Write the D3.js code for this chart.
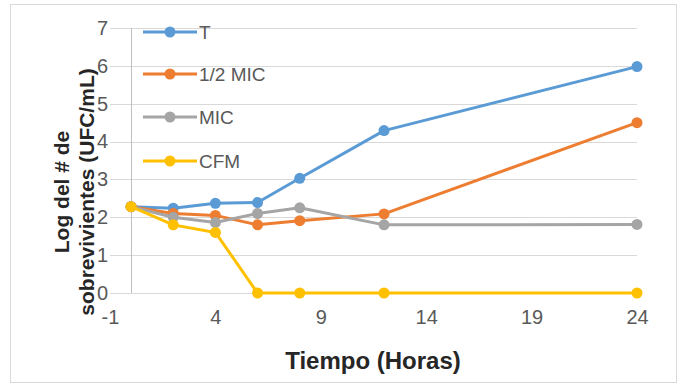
<!DOCTYPE html>
<html>
<head>
<meta charset="utf-8">
<script src="https://cdn.jsdelivr.net/npm/d3@7"></script>
<style>
  html, body { margin: 0; padding: 0; background: #fff; }
  svg { display: block; }
</style>
</head>
<body>
<svg id="chart" width="689" height="386"></svg>
<script>
// ---- data ----
const hours = [0, 2, 4, 6, 8, 12, 24];
const seriesNames = ["T", "1/2 MIC", "MIC", "CFM"];
const valuesT = [2.28, 2.24, 2.37, 2.39, 3.03, 4.29, 5.98];
const valuesHalfMIC = [2.28, 2.10, 2.05, 1.80, 1.91, 2.09, 4.50];
const valuesMIC = [2.28, 2.00, 1.86, 2.10, 2.25, 1.80, 1.81];
const valuesCFM = [2.28, 1.80, 1.60, 0, 0, 0, 0];
const xTicks = [-1, 4, 9, 14, 19, 24];
const yTicks = [0, 1, 2, 3, 4, 5, 6, 7];
const colors = ["#5B9BD5", "#ED7D31", "#A5A5A5", "#FFC000"];
const yTitleLines = ["Log del # de", "sobrevivientes (UFC/mL)"];
const xTitle = "Tiempo (Horas)";

const allValues = [valuesT, valuesHalfMIC, valuesMIC, valuesCFM];
const series = seriesNames.map((name, i) => ({
  name, color: colors[i],
  points: hours.map((h, j) => ({ x: h, y: allValues[i][j] }))
}));

const svg = d3.select("#chart");
const font = "'Liberation Sans', Arial, sans-serif";

// chart border
svg.append("rect").attr("x", 10.5).attr("y", 4.5).attr("width", 666).attr("height", 378)
  .attr("fill", "#fff").attr("stroke", "#D9D9D9").attr("stroke-width", 1);

const x = d3.scaleLinear().domain([-1, 24]).range([110, 637]);
const y = d3.scaleLinear().domain([0, 7]).range([293, 28]);

// gridlines
svg.append("g").selectAll("line").data(yTicks).join("line")
  .attr("x1", x(-1)).attr("x2", x(24))
  .attr("y1", d => Math.round(y(d)) + 0.5).attr("y2", d => Math.round(y(d)) + 0.5)
  .attr("stroke", "#D9D9D9").attr("stroke-width", 1);

// vertical axis line at x = 0
svg.append("line")
  .attr("x1", Math.round(x(0)) + 0.5).attr("x2", Math.round(x(0)) + 0.5)
  .attr("y1", y(7)).attr("y2", y(0))
  .attr("stroke", "#BFBFBF").attr("stroke-width", 1);

// y axis tick labels
const yAxis = d3.axisLeft(y).tickValues(yTicks).tickSize(0).tickPadding(0).tickFormat(d => String(d));
const gy = svg.append("g").attr("transform", `translate(${x(-1) - 2},0)`).call(yAxis);
gy.select(".domain").remove();
gy.selectAll("text").attr("font-family", font).attr("font-size", 20).attr("fill", "#595959");

// x axis tick labels
const xAxis = d3.axisBottom(x).tickValues(xTicks).tickSize(0).tickPadding(0).tickFormat(d => String(d));
const gx = svg.append("g").attr("transform", `translate(0,${y(0) + 17})`).call(xAxis);
gx.select(".domain").remove();
gx.selectAll("text").attr("font-family", font).attr("font-size", 20).attr("fill", "#595959");

// lines & markers
const line = d3.line().x(d => x(d.x)).y(d => y(d.y));
series.forEach(s => {
  const g = svg.append("g");
  g.append("path").datum(s.points).attr("d", line)
    .attr("fill", "none").attr("stroke", s.color).attr("stroke-width", 3)
    .attr("stroke-linejoin", "round").attr("stroke-linecap", "round");
  g.selectAll("circle").data(s.points).join("circle")
    .attr("cx", d => x(d.x)).attr("cy", d => y(d.y)).attr("r", 5.5)
    .attr("fill", s.color);
});

// legend
const legendY = [32, 74, 117, 161];
const lg = svg.append("g");
series.forEach((s, i) => {
  const g = lg.append("g").attr("transform", `translate(0,${legendY[i]})`);
  g.append("line").attr("x1", 143).attr("x2", 197).attr("y1", 0).attr("y2", 0)
    .attr("stroke", s.color).attr("stroke-width", 3);
  g.append("circle").attr("cx", 170).attr("cy", 0).attr("r", 5.5).attr("fill", s.color);
  g.append("text").attr("x", 199).attr("y", 0).attr("dy", "0.36em")
    .attr("font-family", font).attr("font-size", 19).attr("fill", "#595959")
    .text(s.name);
});

// y title
const yt = svg.append("text")
  .attr("transform", "translate(0,192) rotate(-90)")
  .attr("text-anchor", "middle")
  .attr("font-family", font).attr("font-size", 21).attr("font-weight", "bold").attr("fill", "#262626");
yTitleLines.forEach((t, i) => {
  yt.append("tspan").attr("x", 0).attr("y", [69, 94][i]).text(t);
});

// x title
svg.append("text").attr("x", 373).attr("y", 369).attr("text-anchor", "middle")
  .attr("font-family", font).attr("font-size", 24).attr("font-weight", "bold").attr("fill", "#262626")
  .text(xTitle);
</script>
</body>
</html>
